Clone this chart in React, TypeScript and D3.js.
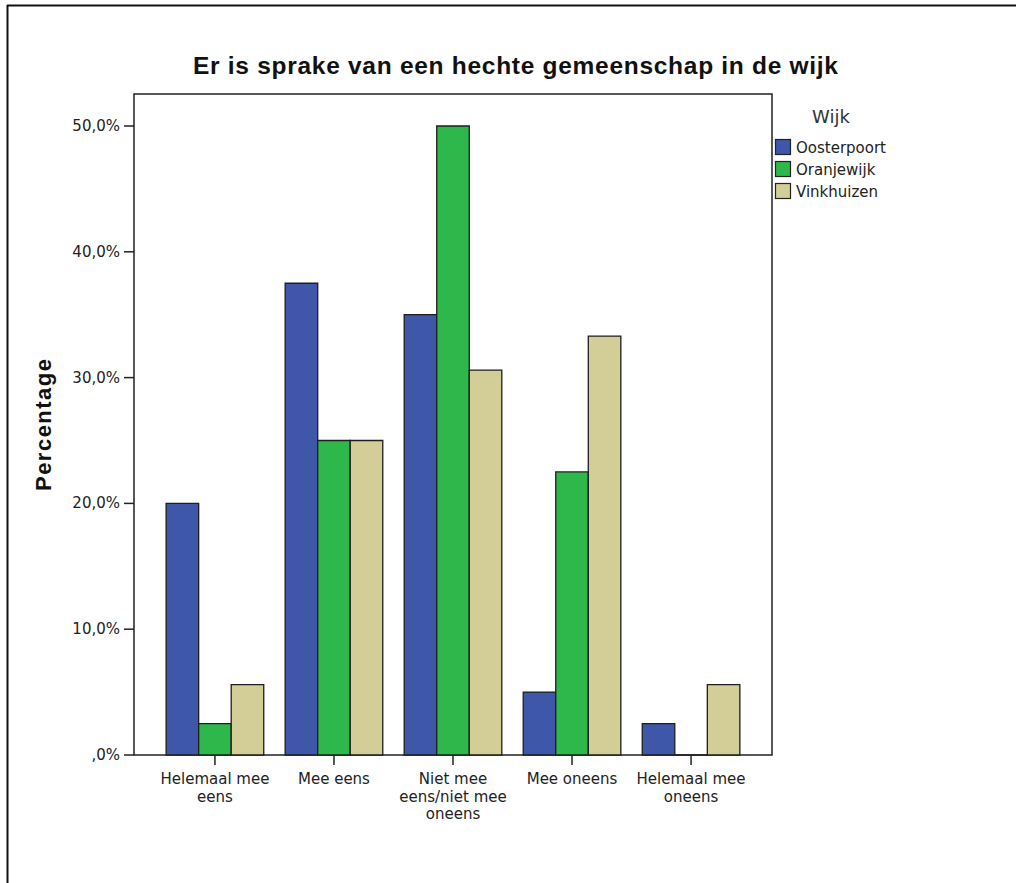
import React from "react";
import * as d3 from "d3";

const categories = [
  ["Helemaal mee", "eens"],
  ["Mee eens"],
  ["Niet mee", "eens/niet mee", "oneens"],
  ["Mee oneens"],
  ["Helemaal mee", "oneens"],
];
const categoryKeys = ["c1", "c2", "c3", "c4", "c5"];
const seriesNames = ["Oosterpoort", "Oranjewijk", "Vinkhuizen"];
const oosterpoort = [20.0, 37.5, 35.0, 5.0, 2.5];
const oranjewijk = [2.5, 25.0, 50.0, 22.5, 0.0];
const vinkhuizen = [5.6, 25.0, 30.6, 33.3, 5.6];
const seriesValues = [oosterpoort, oranjewijk, vinkhuizen];
const colors = ["#3e57a8", "#2eb84b", "#d3ce98"];
const yTicks = [0, 10, 20, 30, 40, 50];
const title = "Er is sprake van een hechte gemeenschap in de wijk";
const yLabel = "Percentage";
const legendTitle = "Wijk";

const W = 1016;
const H = 883;
const left = 134;
const right = 772;
const top = 94;
const bottom = 755;

export default function App() {
  const y = d3.scaleLinear().domain([0, 50]).range([bottom, 126]);
  const x0 = d3
    .scaleBand<string>()
    .domain(categoryKeys)
    .range([left, right])
    .paddingInner(0.18)
    .paddingOuter(0.27);
  const x1 = d3
    .scaleBand<string>()
    .domain(seriesNames)
    .range([0, x0.bandwidth()]);
  const fmt = (v: number) => (v === 0 ? ",0%" : d3.format(".1f")(v).replace(".", ",") + "%");
  const tickFont = "DejaVu Sans, Verdana, sans-serif";

  const bars: React.ReactNode[] = [];
  seriesValues.forEach((vals, si) => {
    vals.forEach((v, ci) => {
      const bx = (x0(categoryKeys[ci]) as number) + (x1(seriesNames[si]) as number);
      const bw = x1.bandwidth();
      const p = d3.path();
      p.moveTo(bx, y(0));
      p.lineTo(bx, y(v));
      p.lineTo(bx + bw, y(v));
      p.lineTo(bx + bw, y(0));
      p.closePath();
      bars.push(
        <path
          key={`${si}-${ci}`}
          d={p.toString()}
          fill={colors[si]}
          stroke="#1e1e1e"
          strokeWidth={1.3}
        />
      );
    });
  });

  return (
    <svg
      width={W}
      height={H}
      style={{ position: "absolute", left: 0, top: 0, background: "#fff" }}
    >
      <rect x={0} y={0} width={W} height={H} fill="#fff" />
      {/* outer border */}
      <line x1={7.5} y1={5} x2={7.5} y2={H} stroke="#111" strokeWidth={2} />
      <line x1={7} y1={5.5} x2={W} y2={5.5} stroke="#111" strokeWidth={2} />

      <text
        x={193}
        y={74}
        fontFamily="Liberation Sans, Arial, sans-serif"
        fontWeight="bold"
        fontSize={24.5}
        textLength={645}
        lengthAdjust="spacing"
        fill="#111"
      >
        {title}
      </text>

      {/* plot frame */}
      <rect
        x={left}
        y={top}
        width={right - left}
        height={bottom - top}
        fill="none"
        stroke="#222"
        strokeWidth={1.5}
      />

      {bars}

      {/* y axis ticks */}
      {yTicks.map((t) => (
        <g key={t}>
          <line x1={left - 10} x2={left} y1={y(t)} y2={y(t)} stroke="#222" strokeWidth={1.5} />
          <text
            x={left - 14}
            y={y(t) + 5}
            textAnchor="end"
            fontFamily={tickFont}
            fontSize={15}
            fill="#222"
          >
            {fmt(t)}
          </text>
        </g>
      ))}

      {/* x axis ticks */}
      {categoryKeys.map((k, ci) => {
        const cx = (x0(k) as number) + x0.bandwidth() / 2;
        return (
          <g key={k}>
            <line x1={cx} x2={cx} y1={bottom} y2={bottom + 10} stroke="#222" strokeWidth={1.5} />
            <text textAnchor="middle" fontFamily={tickFont} fontSize={15} fill="#222">
              {categories[ci].map((ln, li) => (
                <tspan key={li} x={cx} y={784 + li * 17.5}>
                  {ln}
                </tspan>
              ))}
            </text>
          </g>
        );
      })}

      <text
        transform={`translate(51, ${491}) rotate(-90)`}
        fontFamily="Liberation Sans, Arial, sans-serif"
        fontWeight="bold"
        fontSize={22}
        textLength={132}
        lengthAdjust="spacing"
        fill="#111"
      >
        {yLabel}
      </text>

      {/* legend */}
      <text x={812} y={123} fontFamily={tickFont} fontSize={18} fill="#333">
        {legendTitle}
      </text>
      {seriesNames.map((s, i) => (
        <g key={s}>
          <rect
            x={775.5}
            y={139.5 + i * 22}
            width={15}
            height={15}
            fill={colors[i]}
            stroke="#222"
            strokeWidth={1.2}
          />
          <text x={796} y={153 + i * 22} fontFamily={tickFont} fontSize={15} fill="#222">
            {s}
          </text>
        </g>
      ))}
    </svg>
  );
}
